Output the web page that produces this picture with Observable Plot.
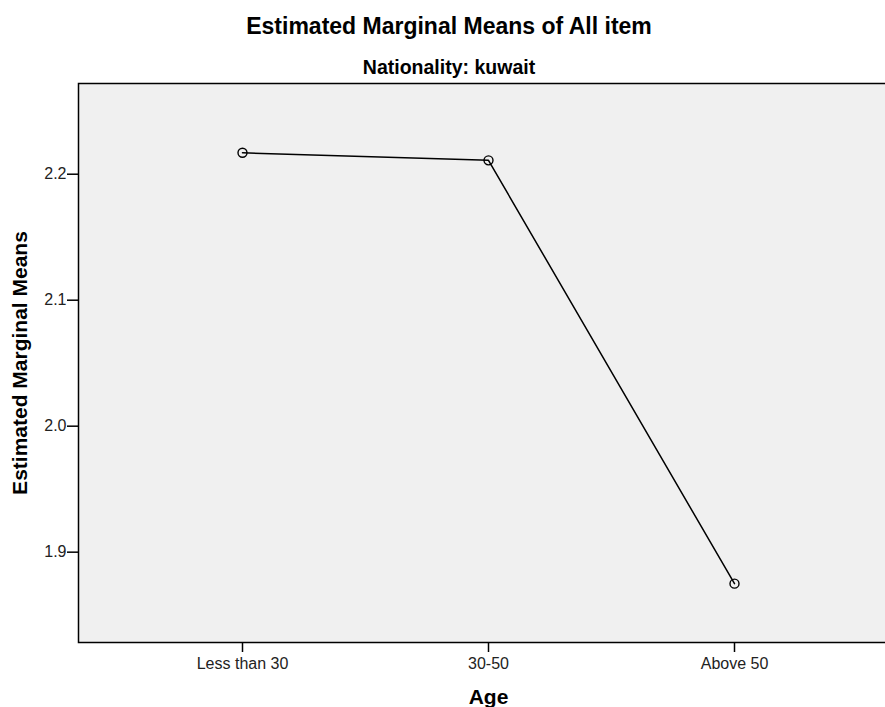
<!DOCTYPE html>
<html>
<head>
<meta charset="utf-8">
<script src="https://cdn.jsdelivr.net/npm/d3@7"></script>
<script src="https://cdn.jsdelivr.net/npm/@observablehq/plot@0.6"></script>
<style>
  html, body { margin: 0; padding: 0; overflow: hidden; background: #fff; }
  #chart { width: 900px; }
  #chart svg { display: block; max-width: none !important; width: 900px; height: 707px; font-family: "Liberation Sans", Arial, sans-serif; }
</style>
</head>
<body>
<div id="chart"></div>
<script>
const ageGroups = ["Less than 30", "30-50", "Above 50"];
const means = [2.217, 2.211, 1.875];
const yTicks = [1.9, 2.0, 2.1, 2.2];
const titleText = "Estimated Marginal Means of All item";
const subtitleText = "Nationality: kuwait";
const xLabel = "Age";
const yLabel = "Estimated Marginal Means";

const data = ageGroups.map((a, i) => ({age: a, mean: means[i]}));

const chart = Plot.plot({
  width: 900,
  height: 707,
  marginTop: 83,
  marginBottom: 65,
  marginLeft: 78,
  marginRight: 2,
  style: {fontFamily: '"Liberation Sans", Arial, sans-serif', color: "#000", background: "#fff"},
  x: {type: "point", domain: ageGroups, padding: 2/3},
  y: {domain: [1.8283, 2.272]},
  marks: [
    Plot.frame({fill: "#f0f0f0", stroke: "#000", strokeWidth: 1.5}),
    Plot.axisY({ticks: yTicks, tickFormat: d3.format(".1f"), tickSize: 11, tickPadding: 1,
      fontSize: 16, fill: "#222", stroke: "#000", strokeWidth: 1.5, label: null}),
    Plot.axisX({tickSize: 10, tickPadding: 5, fontSize: 16, fill: "#222", stroke: "#000",
      strokeWidth: 1.5, label: null}),
    Plot.line(data, {x: "age", y: "mean", stroke: "#000", strokeWidth: 1.5}),
    Plot.dot(data, {x: "age", y: "mean", r: 4.5, stroke: "#000", strokeWidth: 1.4, fill: "none"}),
    Plot.text([titleText], {frameAnchor: "top", dx: -39.5, dy: -56.7, lineAnchor: "middle",
      fontSize: 23, fontWeight: "bold", fill: "#000"}),
    Plot.text([subtitleText], {frameAnchor: "top", dx: -39.5, dy: -15.9, lineAnchor: "middle",
      fontSize: 19.5, fontWeight: "bold", fill: "#000"}),
    Plot.text([xLabel], {frameAnchor: "bottom", dy: 54.5, lineAnchor: "middle",
      fontSize: 21, fontWeight: "bold", fill: "#000"}),
    Plot.text([yLabel], {frameAnchor: "left", textAnchor: "middle", dx: -58, rotate: -90,
      lineAnchor: "middle", fontSize: 21, fontWeight: "bold", fill: "#000"})
  ]
});
document.getElementById("chart").appendChild(chart);
</script>
</body>
</html>
